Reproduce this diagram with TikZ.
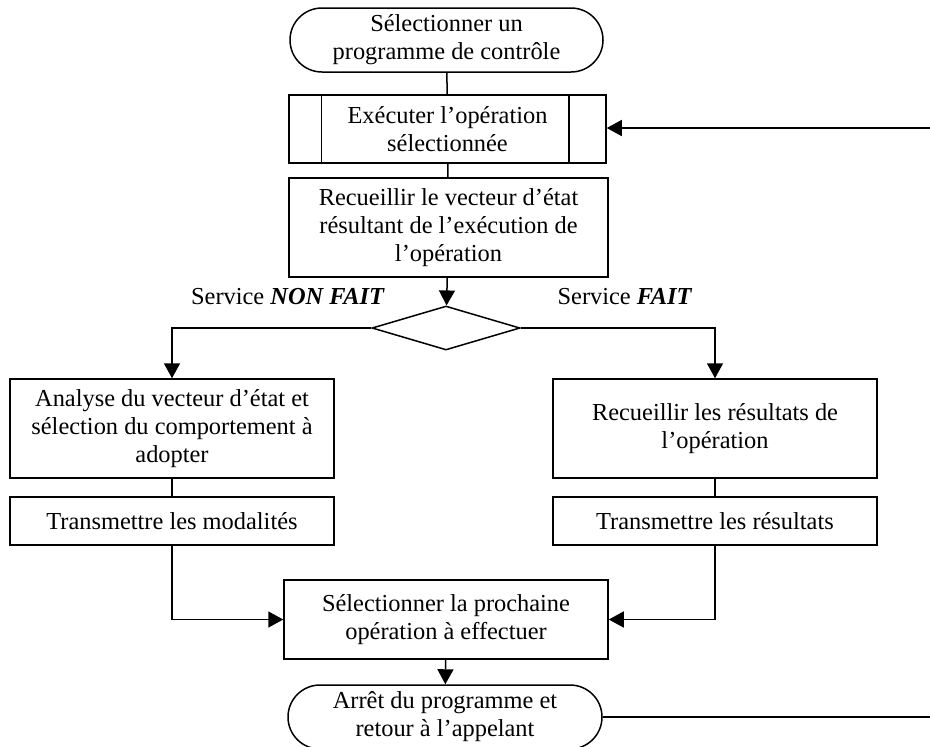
\documentclass[tikz,border=0pt]{standalone}
\usepackage{fontspec}
\setmainfont{Liberation Serif}
\usetikzlibrary{arrows.meta,shapes.misc,shapes.geometric}

\begin{document}
\begin{tikzpicture}[x=0.5pt,y=-0.5pt,
    line width=0.75pt,
    every node/.style={font=\fontsize{12.2}{14}\selectfont, align=center, inner sep=0pt},
    box/.style={draw, rectangle, minimum height=#1},
    terminal/.style={draw, rounded rectangle, minimum width=#1, minimum height=32pt},
    decision/.style={draw, diamond, aspect=3.36, minimum width=74pt, minimum height=22pt},
    arr/.style={-{Triangle[length=7.5pt,width=8pt]}},
    lbl/.style={font=\fontsize{12.2}{14}\selectfont}]
  \useasboundingbox (0,0) rectangle (930,746);

  % main column
  \node[terminal=156.5pt] (start) at (446.5,40) {Sélectionner un\\programme de contrôle};
  \node[box=34pt, minimum width=158.5pt] (exec) at (447.5,129) {Exécuter l’opération\\sélectionnée};
  \draw ([xshift=16.5pt]exec.north west) -- ([xshift=16.5pt]exec.south west);
  \draw ([xshift=-19pt]exec.north east) -- ([xshift=-19pt]exec.south east);
  \node[box=49.5pt, minimum width=159.5pt] (collect) at (448.5,227.5) {Recueillir le vecteur d’état\\résultant de l’exécution de\\l’opération};
  \node[decision] (test) at (446,328) {};

  % branch labels
  \node[lbl] (nonfait) at (288,297) {Service \textbf{\textit{NON FAIT}}};
  \node[lbl] (fait) at (625,297) {Service \textbf{\textit{FAIT}}};

  % left branch
  \node[box=49.5pt, minimum width=162pt] (analyse) at (172,428.5) {Analyse du vecteur d’état et\\sélection du comportement à\\adopter};
  \node[box=24pt, minimum width=162pt] (transL) at (172,521) {Transmettre les modalités};

  % right branch
  \node[box=49.5pt, minimum width=162pt] (results) at (715,428.5) {Recueillir les résultats de\\l’opération};
  \node[box=24pt, minimum width=162pt] (transR) at (715,521) {Transmettre les résultats};

  % merge and end
  \node[box=39.5pt, minimum width=162pt] (next) at (446,619.5) {Sélectionner la prochaine\\opération à effectuer};
  \node[terminal=157pt] (stop) at (445,717) {Arrêt du programme et\\retour à l’appelant};

  % free ends at the right margin
  \coordinate (loopin) at (930,128);
  \coordinate (loopout) at (930,717);

  % connectors
  \draw (start) -- (exec);
  \draw (exec) -- (collect);
  \draw[arr] (collect) -- (test);
  \draw[arr] (test.west) -| (analyse.north);
  \draw[arr] (test.east) -| (results.north);
  \draw (analyse) -- (transL);
  \draw (results) -- (transR);
  \draw[arr] (transL.south) |- (next.west);
  \draw[arr] (transR.south) |- (next.east);
  \draw[arr] (next) -- (stop);
  \draw (stop.east) -- (loopout);
  \draw[arr] (loopin) -- (exec.east |- loopin);
\end{tikzpicture}
\end{document}
